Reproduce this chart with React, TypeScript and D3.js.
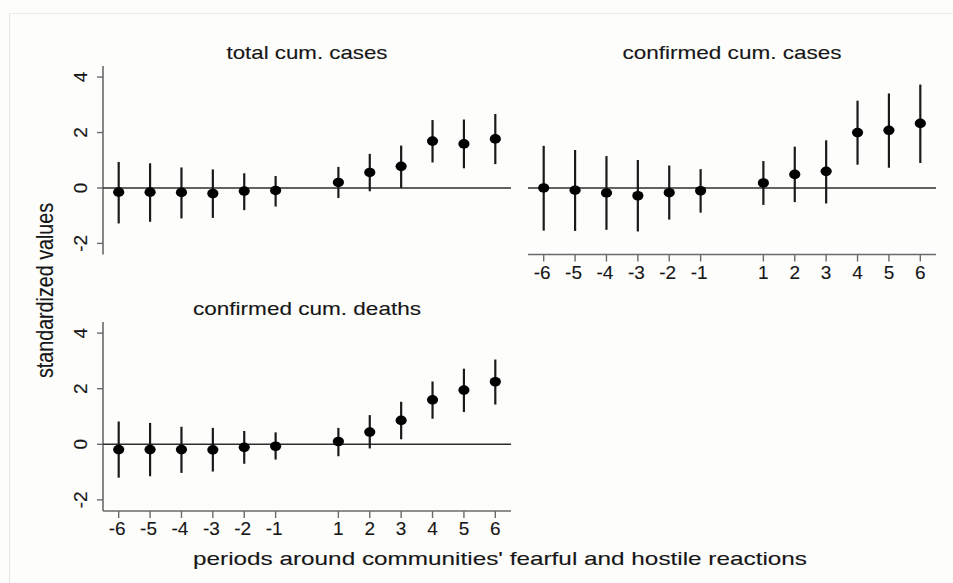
import React from "react";
import * as d3 from "d3";

const periods = [-6, -5, -4, -3, -2, -1, 1, 2, 3, 4, 5, 6];
const yTicks = [-2, 0, 2, 4];

const totalEst = [-0.15, -0.15, -0.16, -0.2, -0.11, -0.09, 0.2, 0.56, 0.78, 1.69, 1.59, 1.77];
const totalLo = [-1.28, -1.22, -1.1, -1.08, -0.8, -0.67, -0.36, -0.12, 0.0, 0.92, 0.71, 0.86];
const totalHi = [0.94, 0.89, 0.74, 0.67, 0.53, 0.43, 0.76, 1.23, 1.53, 2.45, 2.47, 2.67];

const confEst = [0.0, -0.08, -0.18, -0.28, -0.17, -0.1, 0.18, 0.49, 0.6, 2.0, 2.08, 2.33];
const confLo = [-1.54, -1.55, -1.51, -1.57, -1.14, -0.89, -0.61, -0.51, -0.56, 0.84, 0.73, 0.9];
const confHi = [1.52, 1.37, 1.15, 1.01, 0.81, 0.68, 0.97, 1.49, 1.72, 3.15, 3.41, 3.73];

const deathEst = [-0.19, -0.19, -0.19, -0.2, -0.11, -0.07, 0.1, 0.44, 0.86, 1.6, 1.95, 2.25];
const deathLo = [-1.2, -1.15, -1.03, -0.98, -0.7, -0.55, -0.43, -0.15, 0.18, 0.92, 1.16, 1.43];
const deathHi = [0.82, 0.77, 0.63, 0.59, 0.48, 0.43, 0.59, 1.05, 1.53, 2.26, 2.72, 3.05];

const FONT = "'Liberation Sans', Arial, Helvetica, sans-serif";
const TXT = "#161616";
const TS = 0.12;

type PanelProps = {
  title: string;
  titleLen: number;
  titleY: number;
  x0: number;
  x1: number;
  yTop: number;
  yBot: number;
  est: number[];
  lo: number[];
  hi: number[];
  showY: boolean;
  showX: boolean;
};

function Panel(p: PanelProps) {
  const x = d3.scaleLinear().domain([-6.5, 6.5]).range([p.x0, p.x1]);
  const y = d3.scaleLinear().domain([-2.4, 4.4]).range([p.yBot, p.yTop]);
  const cx = (p.x0 + p.x1) / 2;
  return (
    <g>
      <text
        x={cx}
        y={p.titleY}
        textAnchor="middle"
        fontSize={19}
        fontFamily={FONT}
        fill={TXT}
        stroke={TXT}
        strokeWidth={TS}
        textLength={p.titleLen}
        lengthAdjust="spacingAndGlyphs"
      >
        {p.title}
      </text>
      {p.showY && (
        <g>
          <line x1={p.x0} x2={p.x0} y1={p.yTop} y2={p.yBot} stroke="#6a6a6a" strokeWidth={1.6} />
          {yTicks.map((t) => (
            <g key={t}>
              <line x1={p.x0 - 6} x2={p.x0} y1={y(t)} y2={y(t)} stroke="#6a6a6a" strokeWidth={1.4} />
              <text
                transform={`translate(${p.x0 - 16},${y(t)}) rotate(-90)`}
                textAnchor="middle"
                fontSize={19}
                fontFamily={FONT}
                fill={TXT}
                stroke={TXT}
                strokeWidth={TS}
              >
                {t}
              </text>
            </g>
          ))}
        </g>
      )}
      {p.showX && (
        <g>
          <line x1={p.x0} x2={p.x1} y1={p.yBot} y2={p.yBot} stroke="#6a6a6a" strokeWidth={1.6} />
          {periods.map((t) => (
            <g key={t}>
              <line x1={x(t)} x2={x(t)} y1={p.yBot} y2={p.yBot + 7} stroke="#6a6a6a" strokeWidth={1.4} />
              <text
                x={x(t) - (t < 0 ? 1.5 : 0)}
                y={p.yBot + 24}
                textAnchor="middle"
                fontSize={19}
                fontFamily={FONT}
                fill={TXT}
                stroke={TXT}
                strokeWidth={TS}
              >
                {t}
              </text>
            </g>
          ))}
        </g>
      )}
      <line x1={p.x0} x2={p.x1} y1={y(0)} y2={y(0)} stroke="#2e2e2e" strokeWidth={1.6} />
      {periods.map((t, i) => (
        <line
          key={"e" + t}
          x1={x(t)}
          x2={x(t)}
          y1={y(p.lo[i])}
          y2={y(p.hi[i])}
          stroke="#1a1a1a"
          strokeWidth={2.2}
        />
      ))}
      {periods.map((t, i) => (
        <ellipse key={"d" + t} cx={x(t)} cy={y(p.est[i])} rx={5.6} ry={4.8} fill="#000" />
      ))}
    </g>
  );
}

export default function App() {
  return (
    <svg width={953} height={583} style={{ position: "absolute", left: 0, top: 0, background: "#fdfdfc" }}>
      <rect x={0} y={0} width={953} height={583} fill="#fdfdfc" />
      <line x1={9.5} x2={953} y1={13.5} y2={13.5} stroke="#ececec" strokeWidth={1} />
      <line x1={9.5} x2={9.5} y1={13.5} y2={583} stroke="#e4e4e4" strokeWidth={1} />
      <Panel
        title="total cum. cases"
        titleLen={161}
        titleY={59}
        x0={103}
        x1={511}
        yTop={66}
        yBot={254.5}
        est={totalEst}
        lo={totalLo}
        hi={totalHi}
        showY={true}
        showX={false}
      />
      <Panel
        title="confirmed cum. cases"
        titleLen={219}
        titleY={59}
        x0={528}
        x1={936}
        yTop={66}
        yBot={254.5}
        est={confEst}
        lo={confLo}
        hi={confHi}
        showY={false}
        showX={true}
      />
      <Panel
        title="confirmed cum. deaths"
        titleLen={228}
        titleY={315}
        x0={103}
        x1={511}
        yTop={322}
        yBot={511}
        est={deathEst}
        lo={deathLo}
        hi={deathHi}
        showY={true}
        showX={true}
      />
      <text
        transform="translate(53,290.5) rotate(-90)"
        textAnchor="middle"
        fontSize={24}
        fontFamily={FONT}
        fill={TXT}
        stroke={TXT}
        strokeWidth={TS}
        textLength={175}
        lengthAdjust="spacingAndGlyphs"
      >
        standardized values
      </text>
      <text
        x={500}
        y={565}
        textAnchor="middle"
        fontSize={19}
        fontFamily={FONT}
        fill={TXT}
        stroke={TXT}
        strokeWidth={TS}
        textLength={614}
        lengthAdjust="spacingAndGlyphs"
      >
        periods around communities' fearful and hostile reactions
      </text>
    </svg>
  );
}
